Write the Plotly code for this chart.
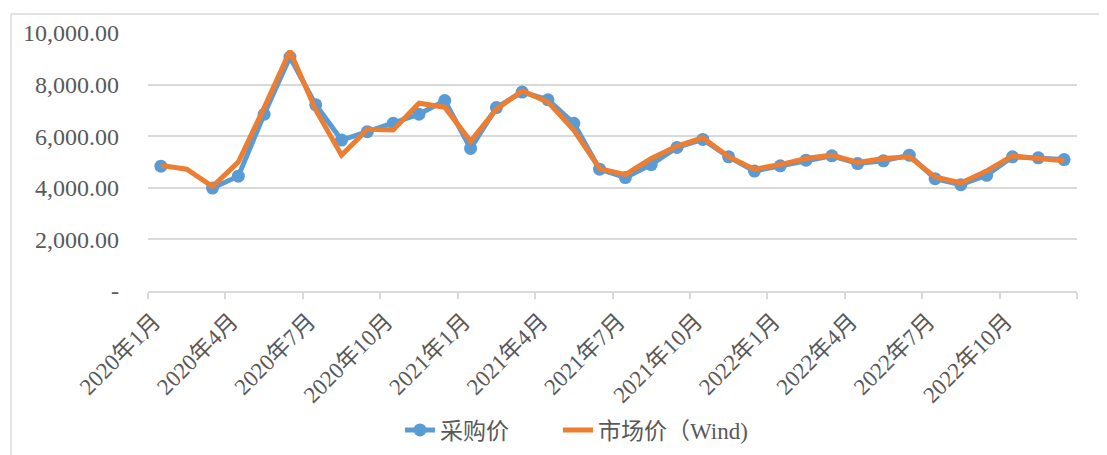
import plotly.graph_objects as go

months = [f"{y}年{m}月" for y in (2020, 2021, 2022) for m in range(1, 13)]

purchase_price = [4840, None, 3990, 4450, 6850, 9070, 7215, 5850, 6175, 6500, 6850, 7380,
                  5525, 7110, 7710, 7410, 6500, 4720, 4395, 4900, 5565, 5875, 5200, 4650,
                  4850, 5070, 5240, 4940, 5045, 5265, 4355, 4120, 4485, 5200, 5160, 5095]

market_price = [4870, 4720, 4050, 5000, 7100, 9300, 7020, 5265, 6265, 6240, 7280, 7125,
                5800, 7050, 7760, 7320, 6240, 4745, 4510, 5135, 5620, 5940, 5200, 4720,
                4900, 5135, 5265, 4980, 5135, 5200, 4420, 4185, 4655, 5240, 5135, 5045]

y_tickvals = [0, 2000, 4000, 6000, 8000, 10000]
y_ticktext = ["-", "2,000.00", "4,000.00", "6,000.00", "8,000.00", "10,000.00"]

x_idx = list(range(len(months)))
x_tickvals = [i - 0.5 for i in range(0, len(months) + 1, 3)]
x_ticktext = [months[i] if i < len(months) else "" for i in range(0, len(months) + 1, 3)]

FONT = "Liberation Serif, Times New Roman, Noto Sans CJK SC, serif"
GREY = "#d9d9d9"
TXT = "#595959"

# page has an 8px body margin; figure coordinates are page coordinates minus 8
OFF = 8
W, H = 1107 - OFF, 455 - OFF
L, T = 148 - OFF, 33 - OFF
PW, PH = 929, 258
R, B = W - L - PW, H - T - PH


def px(xp):  # page x -> paper x
    return (xp - OFF - L) / PW


def py(yp):  # page y -> paper y
    return 1 - (yp - OFF - T) / PH


fig = go.Figure()
fig.add_trace(go.Scatter(
    x=x_idx, y=purchase_price, name="采购价", mode="lines+markers",
    line=dict(color="#5B9BD5", width=5), marker=dict(size=13, color="#5B9BD5"),
    connectgaps=False, legend="legend",
))
fig.add_trace(go.Scatter(
    x=x_idx, y=market_price, name="市场价（Wind)", mode="lines",
    line=dict(color="#ED7D31", width=5), legend="legend2",
))

legend_common = dict(orientation="h", xanchor="left", yanchor="middle", y=py(430),
                     font=dict(family=FONT, size=23, color=TXT), bgcolor="rgba(0,0,0,0)")

fig.update_layout(
    width=W, height=H,
    margin=dict(l=L, r=R, t=T, b=B, autoexpand=False),
    paper_bgcolor="white", plot_bgcolor="white",
    font=dict(family=FONT, color=TXT, size=23),
    showlegend=True,
    legend=dict(x=px(400), **legend_common),
    legend2=dict(x=px(558), **legend_common),
    shapes=[
        dict(type="line", xref="paper", yref="paper", x0=px(11), x1=px(1107),
             y0=py(14), y1=py(14), line=dict(color=GREY, width=1.5)),
        dict(type="line", xref="paper", yref="paper", x0=px(11), x1=px(11),
             y0=py(14), y1=py(455), line=dict(color=GREY, width=1.5)),
    ],
)

fig.update_xaxes(
    range=[-0.5, len(months) - 0.5], automargin=False,
    tickmode="array", tickvals=x_tickvals, ticktext=x_ticktext,
    tickangle=-45, ticks="outside", ticklen=6, tickcolor=GREY, tickwidth=1.5,
    showline=True, linecolor=GREY, linewidth=1.5,
    showgrid=False, zeroline=False,
    ticklabelshift=6,
    tickfont=dict(family=FONT, size=23, color=TXT),
)
fig.update_yaxes(
    range=[0, 10000], automargin=False,
    tickmode="array", tickvals=y_tickvals, ticktext=y_ticktext,
    showgrid=True, gridcolor=GREY, gridwidth=1.5,
    showline=False, zeroline=False, ticks="",
    ticklabelstandoff=28,
    tickfont=dict(family=FONT, size=24, color=TXT),
)

fig.write_html("out.html")
